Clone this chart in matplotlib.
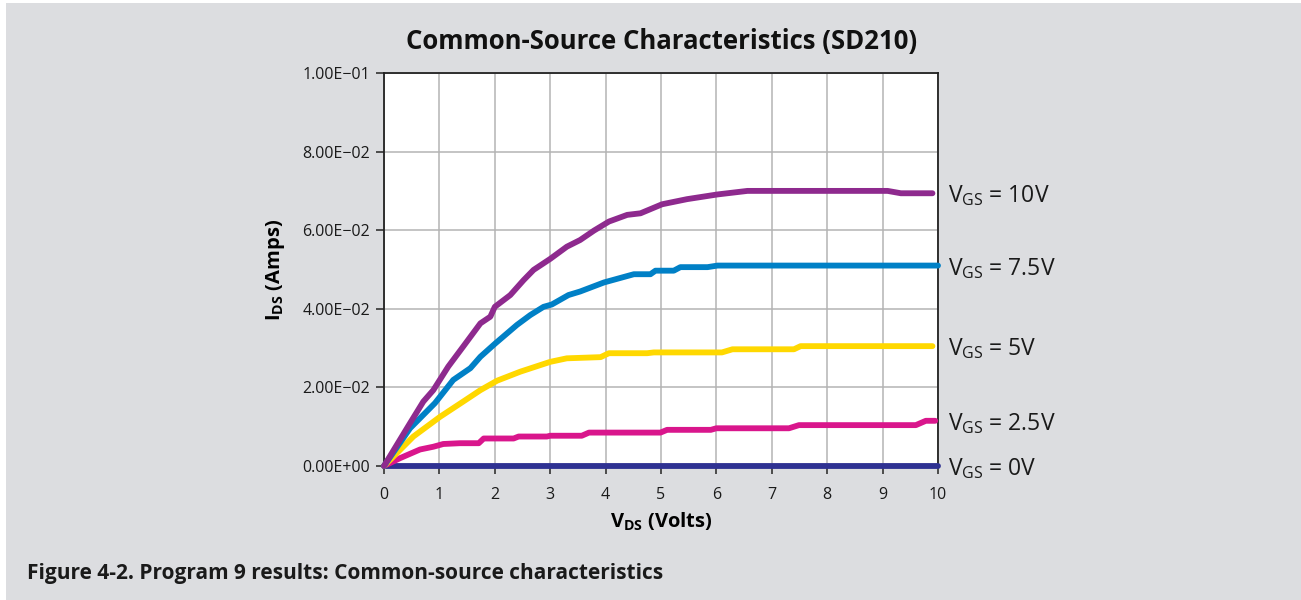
import matplotlib
matplotlib.use("Agg")
import matplotlib.pyplot as plt
from matplotlib.patches import Rectangle

plt.rcParams["font.family"] = ["Open Sans", "DejaVu Sans"]
plt.rcParams["mathtext.fontset"] = "custom"
plt.rcParams["mathtext.rm"] = "Open Sans"
plt.rcParams["mathtext.bf"] = "Open Sans:bold"
plt.rcParams["axes.unicode_minus"] = True

# V_GS = 10 V
vds_10 = [0, 0.47, 0.71, 0.89, 1.16, 1.43, 1.74, 1.92, 2.0, 2.28, 2.52, 2.70, 3.0, 3.30,
          3.54, 3.79, 4.06, 4.39, 4.63, 5.02, 5.47, 6.02, 6.56, 7.2, 8.0, 9.09, 9.33, 9.9]
ids_10 = [0, 0.0109, 0.0164, 0.0193, 0.0253, 0.0304, 0.0363, 0.0380, 0.0405, 0.0435, 0.0473,
          0.0499, 0.0527, 0.0558, 0.0575, 0.0599, 0.0622, 0.0639, 0.0643, 0.0666, 0.0679,
          0.0691, 0.0700, 0.0700, 0.0700, 0.0700, 0.0694, 0.0694]

# V_GS = 7.5 V
vds_75 = [0, 0.47, 0.92, 1.25, 1.56, 1.74, 2.01, 2.40, 2.64, 2.88, 3.03, 3.33, 3.54, 3.97,
          4.51, 4.81, 4.90, 5.23, 5.35, 5.84, 6.02, 8.0, 10.0]
ids_75 = [0, 0.0096, 0.0160, 0.0219, 0.0249, 0.0278, 0.0312, 0.0359, 0.0384, 0.0405, 0.0411,
          0.0435, 0.0444, 0.0467, 0.0488, 0.0488, 0.0497, 0.0497, 0.0506, 0.0506, 0.0510,
          0.0510, 0.0510]

# V_GS = 5 V
vds_5 = [0, 0.53, 1.01, 1.43, 1.74, 2.04, 2.46, 3.0, 3.30, 3.91, 4.06, 4.75, 4.87, 6.10,
         6.29, 7.40, 7.52, 9.9]
ids_5 = [0, 0.0075, 0.0125, 0.0164, 0.0193, 0.0217, 0.0240, 0.0265, 0.0274, 0.0277, 0.0287,
         0.0287, 0.0289, 0.0289, 0.0297, 0.0297, 0.0305, 0.0305]

# V_GS = 2.5 V
vds_25 = [0, 0.29, 0.65, 0.89, 1.07, 1.37, 1.71, 1.80, 2.34, 2.43, 2.94, 3.0, 3.57, 3.70,
          4.99, 5.11, 5.90, 6.0, 7.31, 7.49, 9.60, 9.78, 9.95]
ids_25 = [0, 0.0020, 0.0042, 0.0049, 0.0056, 0.0058, 0.0058, 0.0070, 0.0070, 0.0075, 0.0075,
          0.0077, 0.0077, 0.0085, 0.0085, 0.0092, 0.0092, 0.0096, 0.0096, 0.0104, 0.0104,
          0.0115, 0.0115]

# V_GS = 0 V
vds_0 = [0, 10]
ids_0 = [0, 0]

series = [
    (vds_0, ids_0, "#2e3192", "0V"),
    (vds_25, ids_25, "#d9168c", "2.5V"),
    (vds_5, ids_5, "#ffd800", "5V"),
    (vds_75, ids_75, "#0080c6", "7.5V"),
    (vds_10, ids_10, "#8e2a8e", "10V"),
]

x_ticks = list(range(0, 11))
y_ticks = [0, 0.02, 0.04, 0.06, 0.08, 0.10]
y_tick_labels = ["0.00E+00", "2.00E\u221202", "4.00E\u221202", "6.00E\u221202",
                 "8.00E\u221202", "1.00E\u221201"]

bg = "#dcdde0"
fig = plt.figure(figsize=(13.01, 6.0), dpi=100, facecolor="white")
fig.patches.append(Rectangle((6 / 1301, 0), 1 - 6 / 1301, 1 - 3 / 600,
                             transform=fig.transFigure, facecolor=bg,
                             edgecolor="none", zorder=-10))

ax = fig.add_axes([384 / 1301, 1 - 466 / 600, (938 - 384) / 1301, (466 - 73) / 600])
ax.set_facecolor("white")

for vx, iy, col, lab in series:
    ax.plot(vx, iy, color=col, linewidth=4.2, solid_capstyle="round",
            solid_joinstyle="round", clip_on=False, zorder=3)
    ax.annotate(r"V$_{\mathregular{GS}}$ = " + lab, xy=(10, iy[-1]),
                xytext=(7, -2), textcoords="offset points",
                fontsize=16.5, color="#1a1a1a", va="center", ha="left",
                annotation_clip=False)

ax.set_xlim(0, 10)
ax.set_ylim(0, 0.1)
ax.set_xticks(x_ticks)
ax.set_yticks(y_ticks)
ax.set_yticklabels(y_tick_labels)
ax.grid(True, color="#b4b4b4", linewidth=1.1)
ax.set_axisbelow(True)
for s in ax.spines.values():
    s.set_color("#222222")
    s.set_linewidth(1.3)
ax.tick_params(direction="out", length=6, width=1.2, color="#333333",
               labelsize=11.5, labelcolor="#1a1a1a")
ax.tick_params(axis="x", pad=9)
ax.tick_params(axis="y", pad=4)

ax.set_xlabel(r"V$_{\mathbf{DS}}$ (Volts)", fontsize=14.5, fontweight="bold", labelpad=6)
ax.set_ylabel(r"I$_{\mathbf{DS}}$ (Amps)", fontsize=14.5, fontweight="bold", labelpad=11)

fig.text(662 / 1301, 1 - 42 / 600, "Common-Source Characteristics (SD210)",
         ha="center", va="center", fontsize=18.5, fontweight="bold", color="#111111")
fig.text(27 / 1301, 1 - 573 / 600, "Figure 4-2. Program 9 results: Common-source characteristics",
         ha="left", va="center", fontsize=15, fontweight="bold", color="#1a1a1a")

fig.savefig("out.png", dpi=100, facecolor=fig.get_facecolor())
